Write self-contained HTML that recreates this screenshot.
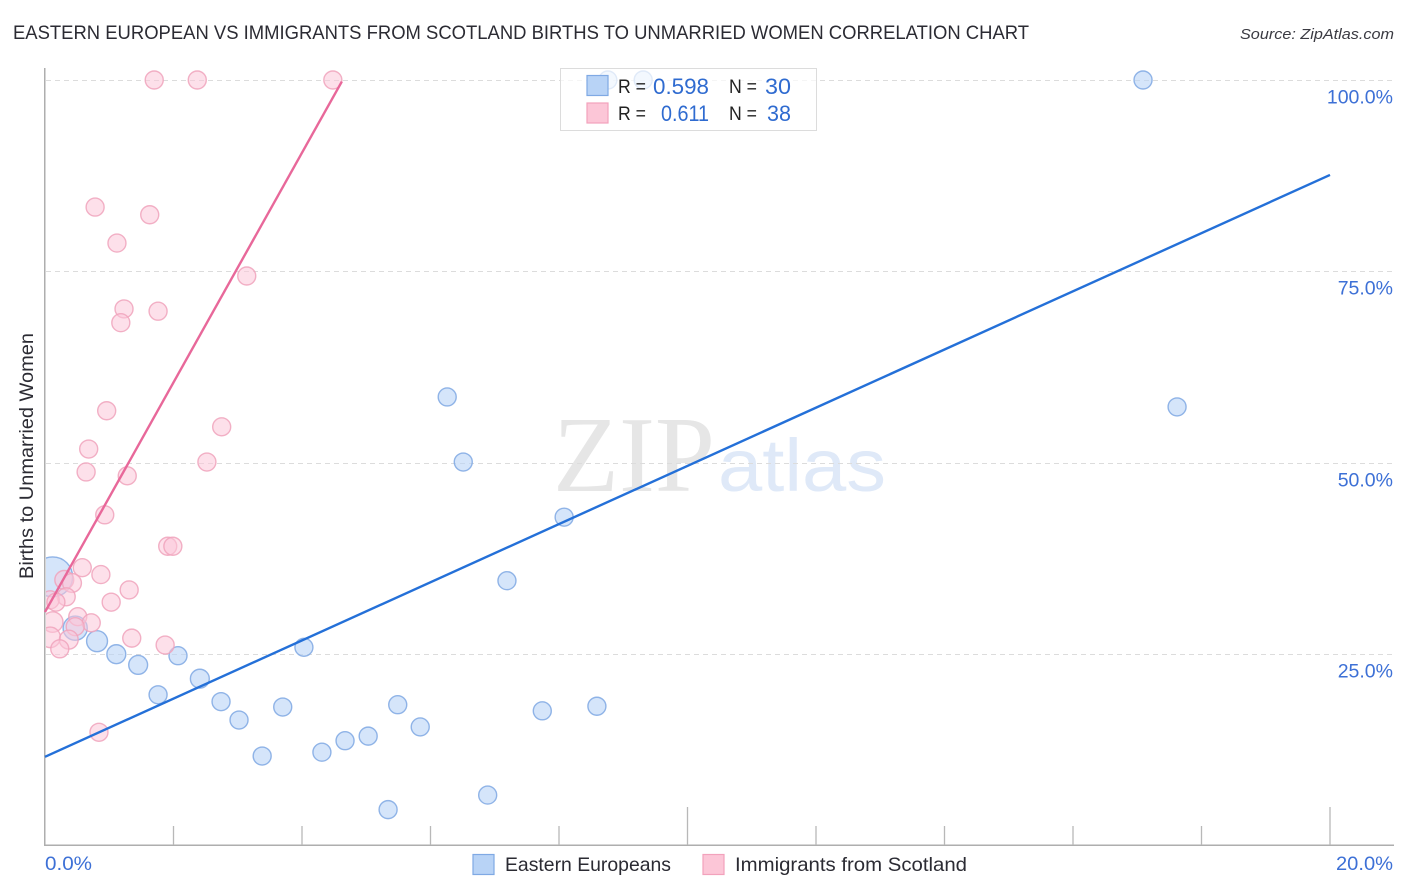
<!DOCTYPE html>
<html lang="en">
<head>
<meta charset="utf-8">
<title>Eastern European vs Immigrants from Scotland Births to Unmarried Women Correlation Chart</title>
<style>
html,body{margin:0;padding:0;background:#fff;width:1406px;height:892px;overflow:hidden}
svg{display:block;font-family:"Liberation Sans",sans-serif}
</style>
</head>
<body>
<svg id="chart" width="1406" height="892" viewBox="0 0 1406 892" xmlns="http://www.w3.org/2000/svg">
  <defs><clipPath id="plot-clip"><rect x="46" y="60" width="1348" height="785"></rect></clipPath></defs>
  <text x="13" y="39" font-size="19" fill="#2b2b33" textLength="1016" lengthAdjust="spacingAndGlyphs">EASTERN EUROPEAN VS IMMIGRANTS FROM SCOTLAND BIRTHS TO UNMARRIED WOMEN CORRELATION CHART</text>
  <text x="1394" y="39" font-size="15" font-style="italic" fill="#3a3a42" text-anchor="end" textLength="154" lengthAdjust="spacingAndGlyphs">Source: ZipAtlas.com</text>
  <text x="553" y="491" font-family="'Liberation Serif',serif" font-size="108" fill="#e6e6e6" textLength="162" lengthAdjust="spacingAndGlyphs">ZIP</text>
  <text x="718" y="491" font-size="74" fill="#dfe9f8" textLength="168" lengthAdjust="spacingAndGlyphs">atlas</text>
  <g id="grid"></g>
  <g id="axes"></g>
  <g id="points" clip-path="url(#plot-clip)"></g>
  <g id="trends"></g>
  <text transform="translate(33,456) rotate(-90)" font-size="19" fill="#2b2b33" text-anchor="middle" textLength="246" lengthAdjust="spacingAndGlyphs">Births to Unmarried Women</text>
  <g>
    <rect x="560.5" y="68.5" width="256" height="62" fill="#fff" fill-opacity="0.72" stroke="#dcdcdc"></rect>
    <rect x="587" y="75.5" width="21" height="20" fill="#b8d3f6" stroke="#7fa9e4" stroke-width="1.2"></rect>
    <rect x="587" y="103" width="21" height="20" fill="#fcc6d7" stroke="#f2a2bc" stroke-width="1.2"></rect>
    <text x="618" y="93" font-size="19" fill="#222" textLength="28" lengthAdjust="spacingAndGlyphs">R =</text>
    <text x="653" y="94" font-size="22" fill="#2f6bd0" textLength="56" lengthAdjust="spacingAndGlyphs">0.598</text>
    <text x="729" y="93" font-size="19" fill="#222" textLength="28" lengthAdjust="spacingAndGlyphs">N =</text>
    <text x="765" y="94" font-size="22" fill="#2f6bd0" textLength="26" lengthAdjust="spacingAndGlyphs">30</text>
    <text x="618" y="120" font-size="19" fill="#222" textLength="28" lengthAdjust="spacingAndGlyphs">R =</text>
    <text x="661" y="121" font-size="22" fill="#2f6bd0" textLength="48" lengthAdjust="spacingAndGlyphs">0.611</text>
    <text x="729" y="120" font-size="19" fill="#222" textLength="28" lengthAdjust="spacingAndGlyphs">N =</text>
    <text x="767" y="121" font-size="22" fill="#2f6bd0" textLength="24" lengthAdjust="spacingAndGlyphs">38</text>
  </g>
  <g>
    <rect x="473" y="854.5" width="21" height="20" fill="#b8d3f6" stroke="#7fa9e4" stroke-width="1.2"></rect>
    <text x="505" y="871" font-size="19.5" fill="#2b2b33" textLength="166" lengthAdjust="spacingAndGlyphs">Eastern Europeans</text>
    <rect x="703" y="854.5" width="21" height="20" fill="#fcc6d7" stroke="#f2a2bc" stroke-width="1.2"></rect>
    <text x="735" y="871" font-size="19.5" fill="#2b2b33" textLength="232" lengthAdjust="spacingAndGlyphs">Immigrants from Scotland</text>
  </g>
</svg>
<script>
const yTickValues = [25, 50, 75, 100];
const yTickLabels = ["25.0%", "50.0%", "75.0%", "100.0%"];
const xTickValues = [0, 2, 4, 6, 8, 10, 12, 14, 16, 18, 20];
const xTickLabels = ["0.0%", "20.0%"];

const easternX = [0.12,0.47,0.81,1.11,1.45,1.76,2.07,2.41,2.74,3.02,3.38,3.70,4.03,4.31,4.67,5.03,5.34,5.49,5.84,6.26,6.51,6.89,7.19,7.74,8.08,8.59,8.76,9.31,17.09,17.62];
const easternY = [35.1,28.4,26.7,25.0,23.6,19.7,24.8,21.8,18.8,16.4,11.7,18.1,25.9,12.2,13.7,14.3,4.7,18.4,15.5,58.6,50.1,6.6,34.6,17.6,42.9,18.2,100,100,100,57.3];
const easternWeight = [4.9,1.8,1.35,1.1,1.1,1,1,1.1,1,1,1,1,1,1,1,1,1,1,1,1,1,1,1,1,1,1,1,1,1,1];

const scotlandX = [1.70,2.37,4.48,0.78,1.63,1.12,3.14,1.23,1.76,1.18,0.96,2.75,0.68,2.52,0.64,1.28,0.93,1.91,1.99,0.58,0.87,0.30,0.42,1.31,0.33,1.03,0.08,0.17,0.51,0.12,0.72,0.47,1.35,0.08,0.37,1.87,0.23,0.84];
const scotlandY = [100,100,100,83.4,82.4,78.7,74.4,70.1,69.8,68.3,56.8,54.7,51.8,50.1,48.8,48.3,43.2,39.1,39.1,36.3,35.4,34.7,34.3,33.4,32.5,31.8,32.1,31.8,29.9,29.2,29.1,28.6,27.1,27.2,26.9,26.2,25.7,14.8];
const scotlandWeight = [1,1,1,1,1,1,1,1,1,1,1,1,1,1,1,1,1,1,1,1,1,1.1,1.1,1,1,1,1,1,1,1.3,1,1,1,1.3,1.1,1,1,1];

const easternTrendX = [0, 20];
const easternTrendY = [11.6, 87.6];
const scotlandTrendX = [0, 4.62];
const scotlandTrendY = [30.5, 99.8];

const SVGNS = 'http://www.w3.org/2000/svg';
const xScale = v => 45 + v * 64.25;
const yScale = v => 845.6 - v * 7.656;
const rScale = w => 9 * Math.sqrt(w);

function make(parent, tag, attrs, text) {
  const el = document.createElementNS(SVGNS, tag);
  for (const k in attrs) el.setAttribute(k, attrs[k]);
  if (text !== undefined) el.textContent = text;
  parent.appendChild(el);
  return el;
}

const grid = document.getElementById('grid');
const axes = document.getElementById('axes');
const points = document.getElementById('points');
const trends = document.getElementById('trends');

yTickValues.forEach((v, i) => {
  const y = Math.round(yScale(v)) + 0.5;
  const line = make(grid, 'line', {x1: 46, x2: 1394, y1: y, y2: y, stroke: '#dcdcdc', 'stroke-width': 1, 'stroke-dasharray': '5 4'});
  
  
  const label = make(axes, 'text', {x: 1393, y: y + 23, 'font-size': 19.5, fill: '#3d70d6', 'text-anchor': 'end'}, yTickLabels[i]);
  
  
});

const yAxis = make(axes, 'line', {x1: 44.75, x2: 44.75, y1: 68, y2: 846, stroke: '#aeaeae', 'stroke-width': 1.5});


const xAxis = make(axes, 'line', {x1: 44, x2: 1394, y1: 845.25, y2: 845.25, stroke: '#aeaeae', 'stroke-width': 1.5});



xTickValues.forEach(v => {
  if (v === 0) return;
  const x = xScale(v);
  const top = (v === 10 || v === 20) ? 807 : 826;
  const tick = make(axes, 'line', {x1: x, x2: x, y1: top, y2: 845, stroke: '#b8b8b8', 'stroke-width': 1.3});
  
  
});

const xStart = make(axes, 'text', {x: 45, y: 870, 'font-size': 19.5, fill: '#3d70d6', textLength: 47, lengthAdjust: 'spacingAndGlyphs'}, xTickLabels[0]);


const xEnd = make(axes, 'text', {x: 1336, y: 870, 'font-size': 19.5, fill: '#3d70d6', textLength: 57, lengthAdjust: 'spacingAndGlyphs'}, xTickLabels[1]);



function drawSeries(xs, ys, ws, fill, stroke, opacity, name) {
  xs.forEach((x, i) => {
    const c = make(points, 'circle', {
      cx: xScale(x), cy: yScale(ys[i]), r: rScale(ws[i]),
      fill: fill, 'fill-opacity': opacity, stroke: stroke, 'stroke-opacity': 0.85, 'stroke-width': 1.4
    });
    
    
  });
}
drawSeries(easternX, easternY, easternWeight, '#b9d3f7', '#7fa8e3', 0.6, 'eastern-europeans');
drawSeries(scotlandX, scotlandY, scotlandWeight, '#fbc6d8', '#f0a3bc', 0.55, 'immigrants-scotland');

const blueTrend = make(trends, 'line', {
  x1: xScale(easternTrendX[0]), y1: yScale(easternTrendY[0]),
  x2: xScale(easternTrendX[1]), y2: yScale(easternTrendY[1]),
  stroke: '#2470d8', 'stroke-width': 2.4
});


const pinkTrend = make(trends, 'line', {
  x1: xScale(scotlandTrendX[0]), y1: yScale(scotlandTrendY[0]),
  x2: xScale(scotlandTrendX[1]), y2: yScale(scotlandTrendY[1]),
  stroke: '#e8689a', 'stroke-width': 2.4
});


</script>
</body>
</html>
